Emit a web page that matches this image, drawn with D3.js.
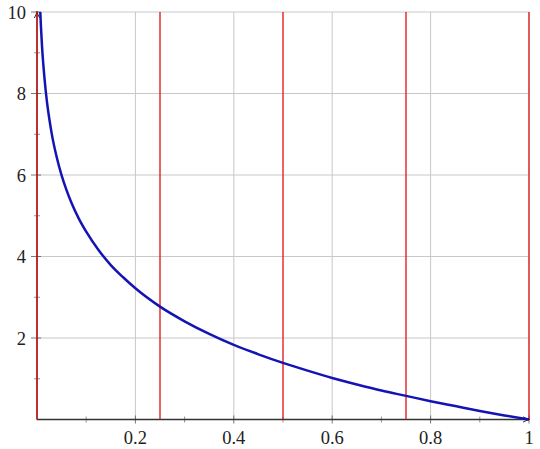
<!DOCTYPE html>
<html><head><meta charset="utf-8">
<script src="https://cdn.jsdelivr.net/npm/d3@7/dist/d3.min.js"></script>
<style>body{margin:0;background:#fff}svg{display:block}</style>
</head><body><svg id="c" width="540" height="449"></svg>
<script>
const curveX = [0.0067,0.008,0.01,0.0125,0.015,0.02,0.025,0.03,0.04,0.05,0.06,0.07,0.085,0.1,0.125,0.15,0.175,0.2,0.25,0.3,0.35,0.4,0.45,0.5,0.55,0.6,0.65,0.7,0.75,0.8,0.85,0.9,0.95,1.0];
const curveY = [10,9.65,9.2,8.76,8.4,7.82,7.38,7.01,6.44,5.99,5.63,5.32,4.93,4.61,4.16,3.79,3.49,3.22,2.77,2.41,2.10,1.83,1.60,1.39,1.20,1.02,0.86,0.71,0.58,0.45,0.33,0.21,0.10,0];
const xTicks = [0.2,0.4,0.6,0.8,1];
const xTickLabels = ["0.2","0.4","0.6","0.8","1"];
const xMinor = [0.1,0.3,0.5,0.7,0.9];
const yTicks = [2,4,6,8,10];
const yTickLabels = ["2","4","6","8","10"];
const yMinor = [1,3,5,7,9];
const redLines = [0,0.25,0.5,0.75,1];

const svg = d3.select("#c");
const x = d3.scaleLinear().domain([0,1]).range([37,529]);
const y = d3.scaleLinear().domain([0,10]).range([419.5,12]);

const defs = svg.append("defs");
defs.append("marker").attr("id","arr").attr("viewBox","0 0 10 10").attr("refX",9).attr("refY",5)
  .attr("markerWidth",7).attr("markerHeight",7).attr("markerUnits","userSpaceOnUse").attr("orient","auto")
  .append("path").attr("d","M0,1 Q5,4 10,5 Q5,6 0,9").attr("fill","none").attr("stroke","#222").attr("stroke-width",1.4);

const g = svg.append("g");
g.selectAll(".gx").data(xTicks).join("line")
  .attr("x1",d=>x(d)).attr("x2",d=>x(d)).attr("y1",y(0)).attr("y2",y(10))
  .attr("stroke","#c8c8c8").attr("stroke-width",1);
g.selectAll(".gy").data(yTicks).join("line")
  .attr("x1",x(0)).attr("x2",x(1)).attr("y1",d=>y(d)).attr("y2",d=>y(d))
  .attr("stroke","#c8c8c8").attr("stroke-width",1);

g.selectAll(".tx").data(xTicks).join("line")
  .attr("x1",d=>x(d)).attr("x2",d=>x(d)).attr("y1",y(0)-4).attr("y2",y(0)+4)
  .attr("stroke","#555").attr("stroke-width",0.8);
g.selectAll(".mx").data(xMinor).join("line")
  .attr("x1",d=>x(d)).attr("x2",d=>x(d)).attr("y1",y(0)-3).attr("y2",y(0)+3)
  .attr("stroke","#666").attr("stroke-width",0.7);
g.selectAll(".ty").data(yTicks).join("line")
  .attr("x1",x(0)-6).attr("x2",x(0)+4).attr("y1",d=>y(d)).attr("y2",d=>y(d))
  .attr("stroke","#555").attr("stroke-width",0.8);
g.selectAll(".my").data(yMinor).join("line")
  .attr("x1",x(0)-3).attr("x2",x(0)+3).attr("y1",d=>y(d)).attr("y2",d=>y(d))
  .attr("stroke","#666").attr("stroke-width",0.7);

svg.append("line").attr("x1",x(0)).attr("x2",x(1)).attr("y1",y(0)).attr("y2",y(0))
  .attr("stroke","#333").attr("stroke-width",1.6).attr("marker-end","url(#arr)");
svg.append("line").attr("x1",x(0)).attr("x2",x(0)).attr("y1",y(0)).attr("y2",y(10))
  .attr("stroke","#333").attr("stroke-width",1.4).attr("marker-end","url(#arr)");

svg.selectAll(".red").data(redLines).join("line")
  .attr("x1",d=>x(d)).attr("x2",d=>x(d)).attr("y1",y(0)).attr("y2",y(10))
  .attr("stroke","#e01010").attr("stroke-width",1.3);

const pts = curveX.map((v,i)=>[v,curveY[i]]);
svg.append("path").datum(pts)
  .attr("d",d3.line().x(d=>x(d[0])).y(d=>y(d[1])).curve(d3.curveMonotoneX))
  .attr("fill","none").attr("stroke","#1414b4").attr("stroke-width",2.5);

const fontStyle = "font-family:'Liberation Serif','Times New Roman',serif;font-size:18.5px;fill:#222";
svg.selectAll(".lx").data(xTicks).join("text")
  .attr("x",d=>x(d)).attr("y",444).attr("text-anchor","middle").attr("style",fontStyle)
  .text((d,i)=>xTickLabels[i]);
svg.selectAll(".ly").data(yTicks).join("text")
  .attr("x",26).attr("y",d=>y(d)+6.5).attr("text-anchor","end").attr("style",fontStyle)
  .text((d,i)=>yTickLabels[i]);
</script></body></html>
